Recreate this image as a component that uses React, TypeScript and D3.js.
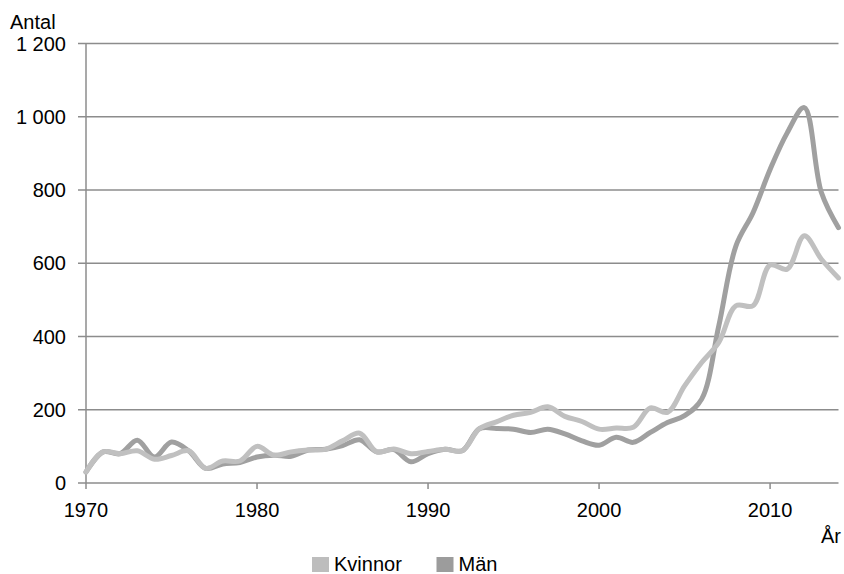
import React, { useEffect, useRef } from 'react';
import * as d3 from 'd3';

const years = d3.range(1970, 2015);

const kvinnor = [
  30, 85, 80, 88, 65, 75, 88, 40, 60, 60,
  100, 76, 85, 90, 92, 115, 136, 85, 93, 80,
  86, 92, 88, 148, 167, 185, 193, 208, 182, 168,
  147, 150, 152, 205, 193, 265, 329, 384, 484, 484,
  595, 584, 675, 611, 560,
];

const man = [
  30, 85, 80, 117, 71, 112, 88, 40, 52, 56,
  71, 76, 73, 90, 92, 102, 118, 85, 91, 58,
  80, 92, 88, 148, 149, 147, 138, 147, 134, 115,
  103, 125, 111, 138, 165, 184, 229, 429, 647, 738,
  856, 956, 1025, 793, 697,
];

const yTicks = [0, 200, 400, 600, 800, 1000, 1200];
const xTicks = [1970, 1980, 1990, 2000, 2010];

const series = [
  { name: 'Män', values: man, color: '#a0a0a0' },
  { name: 'Kvinnor', values: kvinnor, color: '#c0c0c0' },
];

const legendItems = [
  { name: 'Kvinnor', color: '#bdbdbd', x: 312 },
  { name: 'Män', color: '#9c9c9c', x: 436.5 },
];

const fmt = (v: number) => (v >= 1000 ? `${Math.floor(v / 1000)} ${String(v % 1000).padStart(3, '0')}` : String(v));

const App: React.FC = () => {
  const svgRef = useRef<SVGSVGElement>(null);

  useEffect(() => {
    if (!svgRef.current) return;
    const svg = d3.select(svgRef.current);
    svg.selectAll('*').remove();

    const font = 'Liberation Sans, Arial, sans-serif';
    const x = d3.scaleLinear().domain([1970, 2014]).range([86, 838.5]);
    const y = d3.scaleLinear().domain([0, 1200]).range([483, 43.5]);
    const grid = '#8c8c8c';

    // gridlines + y tick marks
    svg.append('g')
      .selectAll('line')
      .data(yTicks)
      .enter()
      .append('line')
      .attr('x1', 78)
      .attr('x2', x(2014))
      .attr('y1', d => y(d))
      .attr('y2', d => y(d))
      .attr('stroke', grid)
      .attr('stroke-width', 1.5);

    // y axis line
    svg.append('line')
      .attr('x1', x(1970)).attr('x2', x(1970))
      .attr('y1', y(1200)).attr('y2', y(0) + 6)
      .attr('stroke', grid).attr('stroke-width', 1.5);

    // x tick marks
    svg.append('g')
      .selectAll('line')
      .data(xTicks.slice(1))
      .enter()
      .append('line')
      .attr('x1', d => x(d)).attr('x2', d => x(d))
      .attr('y1', y(0)).attr('y2', y(0) + 6)
      .attr('stroke', grid).attr('stroke-width', 1.5);

    // y labels
    svg.append('g')
      .selectAll('text')
      .data(yTicks)
      .enter()
      .append('text')
      .attr('x', 66)
      .attr('y', d => y(d))
      .attr('dy', '0.36em')
      .attr('text-anchor', 'end')
      .attr('font-family', font)
      .attr('font-size', 20)
      .attr('fill', '#000')
      .text(d => fmt(d));

    // x labels
    svg.append('g')
      .selectAll('text')
      .data(xTicks)
      .enter()
      .append('text')
      .attr('x', d => x(d))
      .attr('y', 517)
      .attr('text-anchor', 'middle')
      .attr('font-family', font)
      .attr('font-size', 20)
      .attr('fill', '#000')
      .text(d => String(d));

    svg.append('text')
      .attr('x', 10).attr('y', 29)
      .attr('font-family', font).attr('font-size', 20)
      .text('Antal');

    svg.append('text')
      .attr('x', 841).attr('y', 543)
      .attr('text-anchor', 'end')
      .attr('font-family', font).attr('font-size', 20)
      .text('År');

    const line = d3.line<number>()
      .x((_, i) => x(years[i]))
      .y(d => y(d))
      .curve(d3.curveCatmullRom.alpha(0.5));

    series.forEach(s => {
      svg.append('path')
        .attr('d', line(s.values) as string)
        .attr('fill', 'none')
        .attr('stroke', s.color)
        .attr('stroke-width', 5)
        .attr('stroke-linejoin', 'round')
        .attr('stroke-linecap', 'round');
    });

    // legend (sits at the very bottom edge, as in the source)
    const legend = svg.append('g');
    legendItems.forEach(item => {
      legend.append('rect')
        .attr('x', item.x).attr('y', 557)
        .attr('width', 17).attr('height', 15)
        .attr('fill', item.color);
      legend.append('text')
        .attr('x', item.x + 22).attr('y', 571)
        .attr('font-family', font).attr('font-size', 20)
        .text(item.name);
    });
  }, []);

  return (
    <svg
      ref={svgRef}
      width={844}
      height={574}
      style={{ position: 'absolute', left: 0, top: 0, background: '#fff' }}
    />
  );
};

export default App;
